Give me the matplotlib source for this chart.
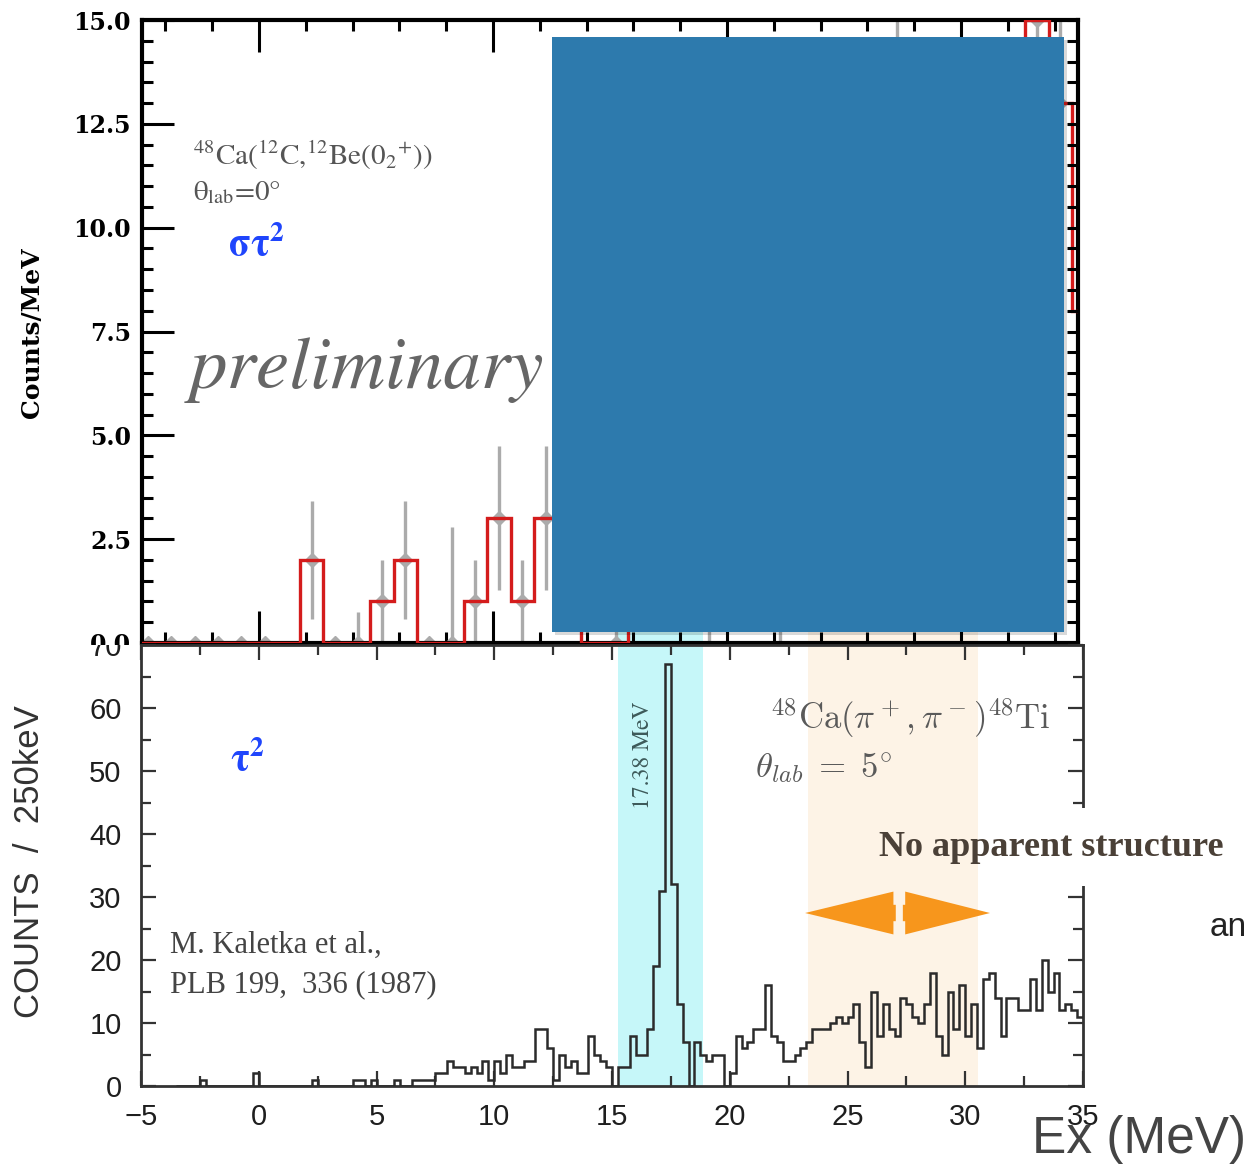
import numpy as np
import matplotlib.pyplot as plt
from matplotlib.patches import Rectangle, FancyArrow
from matplotlib.transforms import Bbox, TransformedBbox, blended_transform_factory

W, H = 1251, 1171

# 48Ca(12C,12Be(0+2)) spectrum, 1 MeV bins (bin centres in MeV)
be_centers = np.arange(-4.75, 35.5, 1.0)
be_counts = [0, 0, 0, 0, 0, 0, 0, 2, 0, 0,
             1, 2, 0, 0, 1, 3, 1, 3, 4, 0,
             0, 5, 7, 2, 1, 4, 2, 1, 2, 5,
             6, 8, 12, 7, 5, 2, 6, 2, 15, 13, 8]
# empty bins that still carry an upper error
zero_up_at = [4.25, 8.25, 15.25]
zero_up_val = [0.75, 2.8, 1.8]
# bins drawn without a marker
no_point = [1.25, 14.25]

# 48Ca(pi+,pi-)48Ti, Kaletka et al., 250 keV bins starting at -3.5 MeV
k_start, k_width = -3.5, 0.25
k_counts = [0, 0,
            0, 0, 1, 0,   0, 0, 0, 0,   0, 0, 0, 2,   0, 0, 0, 0,
            0, 0, 0, 0,   0, 1, 0, 0,   0, 0, 0, 0,   1, 1, 0, 1,
            0, 0, 0, 1,   0, 0, 1, 1,   1, 1, 2, 2,   4, 3, 3, 2,
            3, 2, 4, 1,   4, 2, 5, 3,   3, 4, 4, 9,   9, 6, 1, 5,
            3, 4, 2, 2,   8, 5, 4, 3,   0, 3, 3, 8,   5, 5, 9, 19,
            31, 67, 32, 13,   7, 0, 7, 5,   4, 5, 5, 0,   2, 8, 6, 7,
            9, 9, 16, 8,   7, 4, 4, 5,   6, 7, 9, 9,   9, 10, 11, 10,
            11, 13, 7, 3,   15, 8, 13, 9,   8, 14, 13, 11,   10, 13, 18, 8,
            5, 15, 9, 16,   8, 13, 6, 17,   18, 14, 8, 14,   14, 12, 12, 17,
            12, 20, 15, 18,   12, 13, 12, 11]

top_yticks = [0.0, 2.5, 5.0, 7.5, 10.0, 12.5, 15.0]
bot_xticks = [-5, 0, 5, 10, 15, 20, 25, 30, 35]
bot_yticks = [0, 10, 20, 30, 40, 50, 60, 70]


def fx(px):
    return px / W


def fy(py):
    return 1 - py / H


plt.rcParams['mathtext.fontset'] = 'stix'
fig = plt.figure(figsize=(W / 100, H / 100), dpi=100)

ax1 = fig.add_axes([fx(142), fy(643), fx(1078) - fx(142), fy(20) - fy(643)])
axr = ax1.twinx()
ax2 = fig.add_axes([fx(141), fy(1086), fx(1083) - fx(141), fy(645) - fy(1086)])
for ax in (ax1, ax2):
    ax.set_facecolor('none')

# ---- top panel ----
counts = np.array(be_counts, float)
edges = np.append(be_centers - 0.5, be_centers[-1] + 0.5)
err_lo = np.sqrt(counts)
err_hi = np.sqrt(counts)
for c, u in zip(zero_up_at, zero_up_val):
    err_hi[np.isclose(be_centers, c)] = u
keep = ~np.isin(be_centers, no_point)

ax1.stairs(counts, edges, baseline=None, color='#d41c1c', lw=2.4, zorder=3)
ax1.errorbar(be_centers[keep], counts[keep], yerr=[err_lo[keep], err_hi[keep]],
             fmt='D', ms=7, color='#ababab', elinewidth=2.4, capsize=0, zorder=2)

ax1.set_xlim(-5, 35)
ax1.set_ylim(0, 15)
ax1.set_xticks([0, 10, 20, 30])
ax1.set_xticks(np.arange(-4, 35, 2), minor=True)
ax1.set_yticks(top_yticks)
ax1.set_yticks(np.arange(0, 15.01, 0.5), minor=True)
ax1.set_yticklabels([f'{v:.1f}' for v in top_yticks],
                    fontfamily='DejaVu Serif', fontweight='bold', fontsize=17)
ax1.tick_params(which='both', direction='in', top=True, bottom=True, left=True,
                right=False, labelbottom=False, width=2.2, color='k')
ax1.tick_params(which='major', length=23, pad=8)
ax1.tick_params(which='minor', length=8)
for s in ax1.spines.values():
    s.set_linewidth(3)

axr.set_ylim(0, 15)
axr.set_yticks(np.arange(0, 15.01, 0.5))
axr.tick_params(direction='in', length=8, width=2.2, labelright=False)
for s in axr.spines.values():
    s.set_visible(False)

ax1.text(-2.82, 11.75, r'$^{48}$Ca($^{12}$C,$^{12}$Be(0$_2$$^{+}$))', fontfamily='STIXGeneral',
         fontsize=21, color='#555555', va='center')
ax1.text(-2.82, 10.84, r'θ$_{\rm lab}$=0°', fontfamily='STIXGeneral',
         fontsize=21, color='#555555', va='center')
ax1.text(-1.33, 9.58, r'στ$^{\mathbf{2}}$', fontfamily='STIXGeneral', fontweight='bold',
         fontsize=28, color='#1f45fc', va='center')
ax1.text(-2.95, 6.57, 'preliminary', fontfamily='STIXGeneral', fontstyle='italic',
         fontsize=54, color='#666666', va='center')

# ---- bottom panel ----
k_edges = k_start + k_width * np.arange(len(k_counts) + 1)
ax2.stairs(k_counts, k_edges, baseline=None, color='#2b2b2b', lw=1.8, zorder=3)
ax2.set_xlim(-5, 35)
ax2.set_ylim(0, 70)
ax2.set_xticks(bot_xticks)
ax2.set_xticklabels([str(v).replace('-', '\u2212') for v in bot_xticks])
ax2.set_xticks(np.arange(-5, 35.1, 2.5), minor=True)
ax2.set_yticks(bot_yticks)
ax2.set_yticks(np.arange(0, 70, 5), minor=True)
ax2.tick_params(which='both', direction='in', top=True, right=True, color='#333333',
                width=1.6, labelsize=21, labelcolor='#1e1e1e')
ax2.tick_params(which='major', length=11)
ax2.tick_params(axis='y', which='major', pad=14)
ax2.tick_params(axis='x', which='major', pad=12)
ax2.tick_params(which='minor', length=7)
for lbl in ax2.get_xticklabels() + ax2.get_yticklabels():
    lbl.set_fontfamily('Liberation Sans')
for s in ax2.spines.values():
    s.set_linewidth(2)
    s.set_color('#333333')

# the two panels meet at y=645 px; each cuts the other's edge label
clip_top = TransformedBbox(Bbox([[0, fy(645)], [1, 1]]), fig.transFigure)
clip_bot = TransformedBbox(Bbox([[0, 0], [1, fy(645)]]), fig.transFigure)
for lbl in ax1.get_yticklabels():
    lbl.set_clip_box(clip_top)
    lbl.set_clip_on(True)
for lbl in ax2.get_yticklabels():
    lbl.set_clip_box(clip_bot)
    lbl.set_clip_on(True)

# shaded energy windows
band_tr = blended_transform_factory(ax2.transData, fig.transFigure)
fig.add_artist(Rectangle((15.25, fy(1086)), 18.86 - 15.25, fy(600) - fy(1086),
                         transform=band_tr, facecolor='#c6f7f9', edgecolor='none', zorder=-1))
fig.add_artist(Rectangle((23.32, fy(1086)), 30.54 - 23.32, fy(600) - fy(1086),
                         transform=band_tr, facecolor='#fdf3e6', edgecolor='none', zorder=-1))

ax2.text(-1.22, 51.7, r'τ$^{\mathbf{2}}$', fontfamily='STIXGeneral', fontweight='bold',
         fontsize=28, color='#1f45fc', va='center')
ax2.text(16.32, 52.5, '17.38 MeV', fontfamily='STIXGeneral', fontsize=17, color='#3d5a5a',
         rotation=90, ha='center', va='center')
ax2.text(21.7, 58.4, r'$^{48}\mathrm{Ca}(\pi^+,\pi^-)^{48}\mathrm{Ti}$', math_fontfamily='cm',
         fontsize=25, color='#5a5a5a', va='center')
ax2.text(21.07, 50.6, r'$\theta_{lab}\;=\;5^{\circ}$', math_fontfamily='cm',
         fontsize=25, color='#5a5a5a', va='center')
ax2.text(-3.77, 22.4, 'M. Kaletka et al.,', fontfamily='Liberation Serif',
         fontsize=22, color='#444444', va='center')
ax2.text(-3.77, 16.0, 'PLB 199,  336 (1987)', fontfamily='Liberation Serif',
         fontsize=22, color='#444444', va='center')

arrow_kw = dict(width=2.6, head_width=6.8, length_includes_head=True,
                facecolor='#f7961c', edgecolor='none', zorder=6)
ax2.add_patch(FancyArrow(27.05, 27.46, -3.85, 0, head_length=3.75, **arrow_kw))
ax2.add_patch(FancyArrow(27.35, 27.46, 3.7, 0, head_length=3.6, **arrow_kw))

# overlay box on the upper spectrum
fig.add_artist(Rectangle((fx(555), fy(635)), fx(1064) - fx(552), fy(37) - fy(632),
                         facecolor='#000000', alpha=0.15, edgecolor='none', zorder=4))
fig.add_artist(Rectangle((fx(552), fy(632)), fx(1064) - fx(552), fy(37) - fy(632),
                         facecolor='#2d7aad', edgecolor='none', zorder=5))
fig.add_artist(Rectangle((fx(980), fy(886)), fx(1251) - fx(980), fy(808) - fy(886),
                         facecolor='white', edgecolor='none', zorder=5))

fig.text(fx(1051), fy(848), 'No apparent structure', fontfamily='Liberation Serif',
         fontweight='bold', fontsize=26, color='#4a4037', ha='center', va='center', zorder=7)
fig.text(fx(1210), fy(928), 'an', fontfamily='Liberation Sans', fontsize=24,
         color='#222222', ha='left', va='center')
fig.text(fx(1032), fy(1140), 'Ex (MeV)', fontfamily='Liberation Sans', fontsize=37,
         color='#444444', ha='left', va='center')
fig.text(fx(32), fy(333), 'Counts/MeV', fontfamily='DejaVu Serif', fontweight='bold',
         fontsize=18, rotation=90, ha='center', va='center')
fig.text(fx(30), fy(862), 'COUNTS  /  250keV', fontfamily='Liberation Sans', fontsize=25,
         color='#333333', rotation=90, ha='center', va='center')

fig.savefig('out.png', dpi=100)
